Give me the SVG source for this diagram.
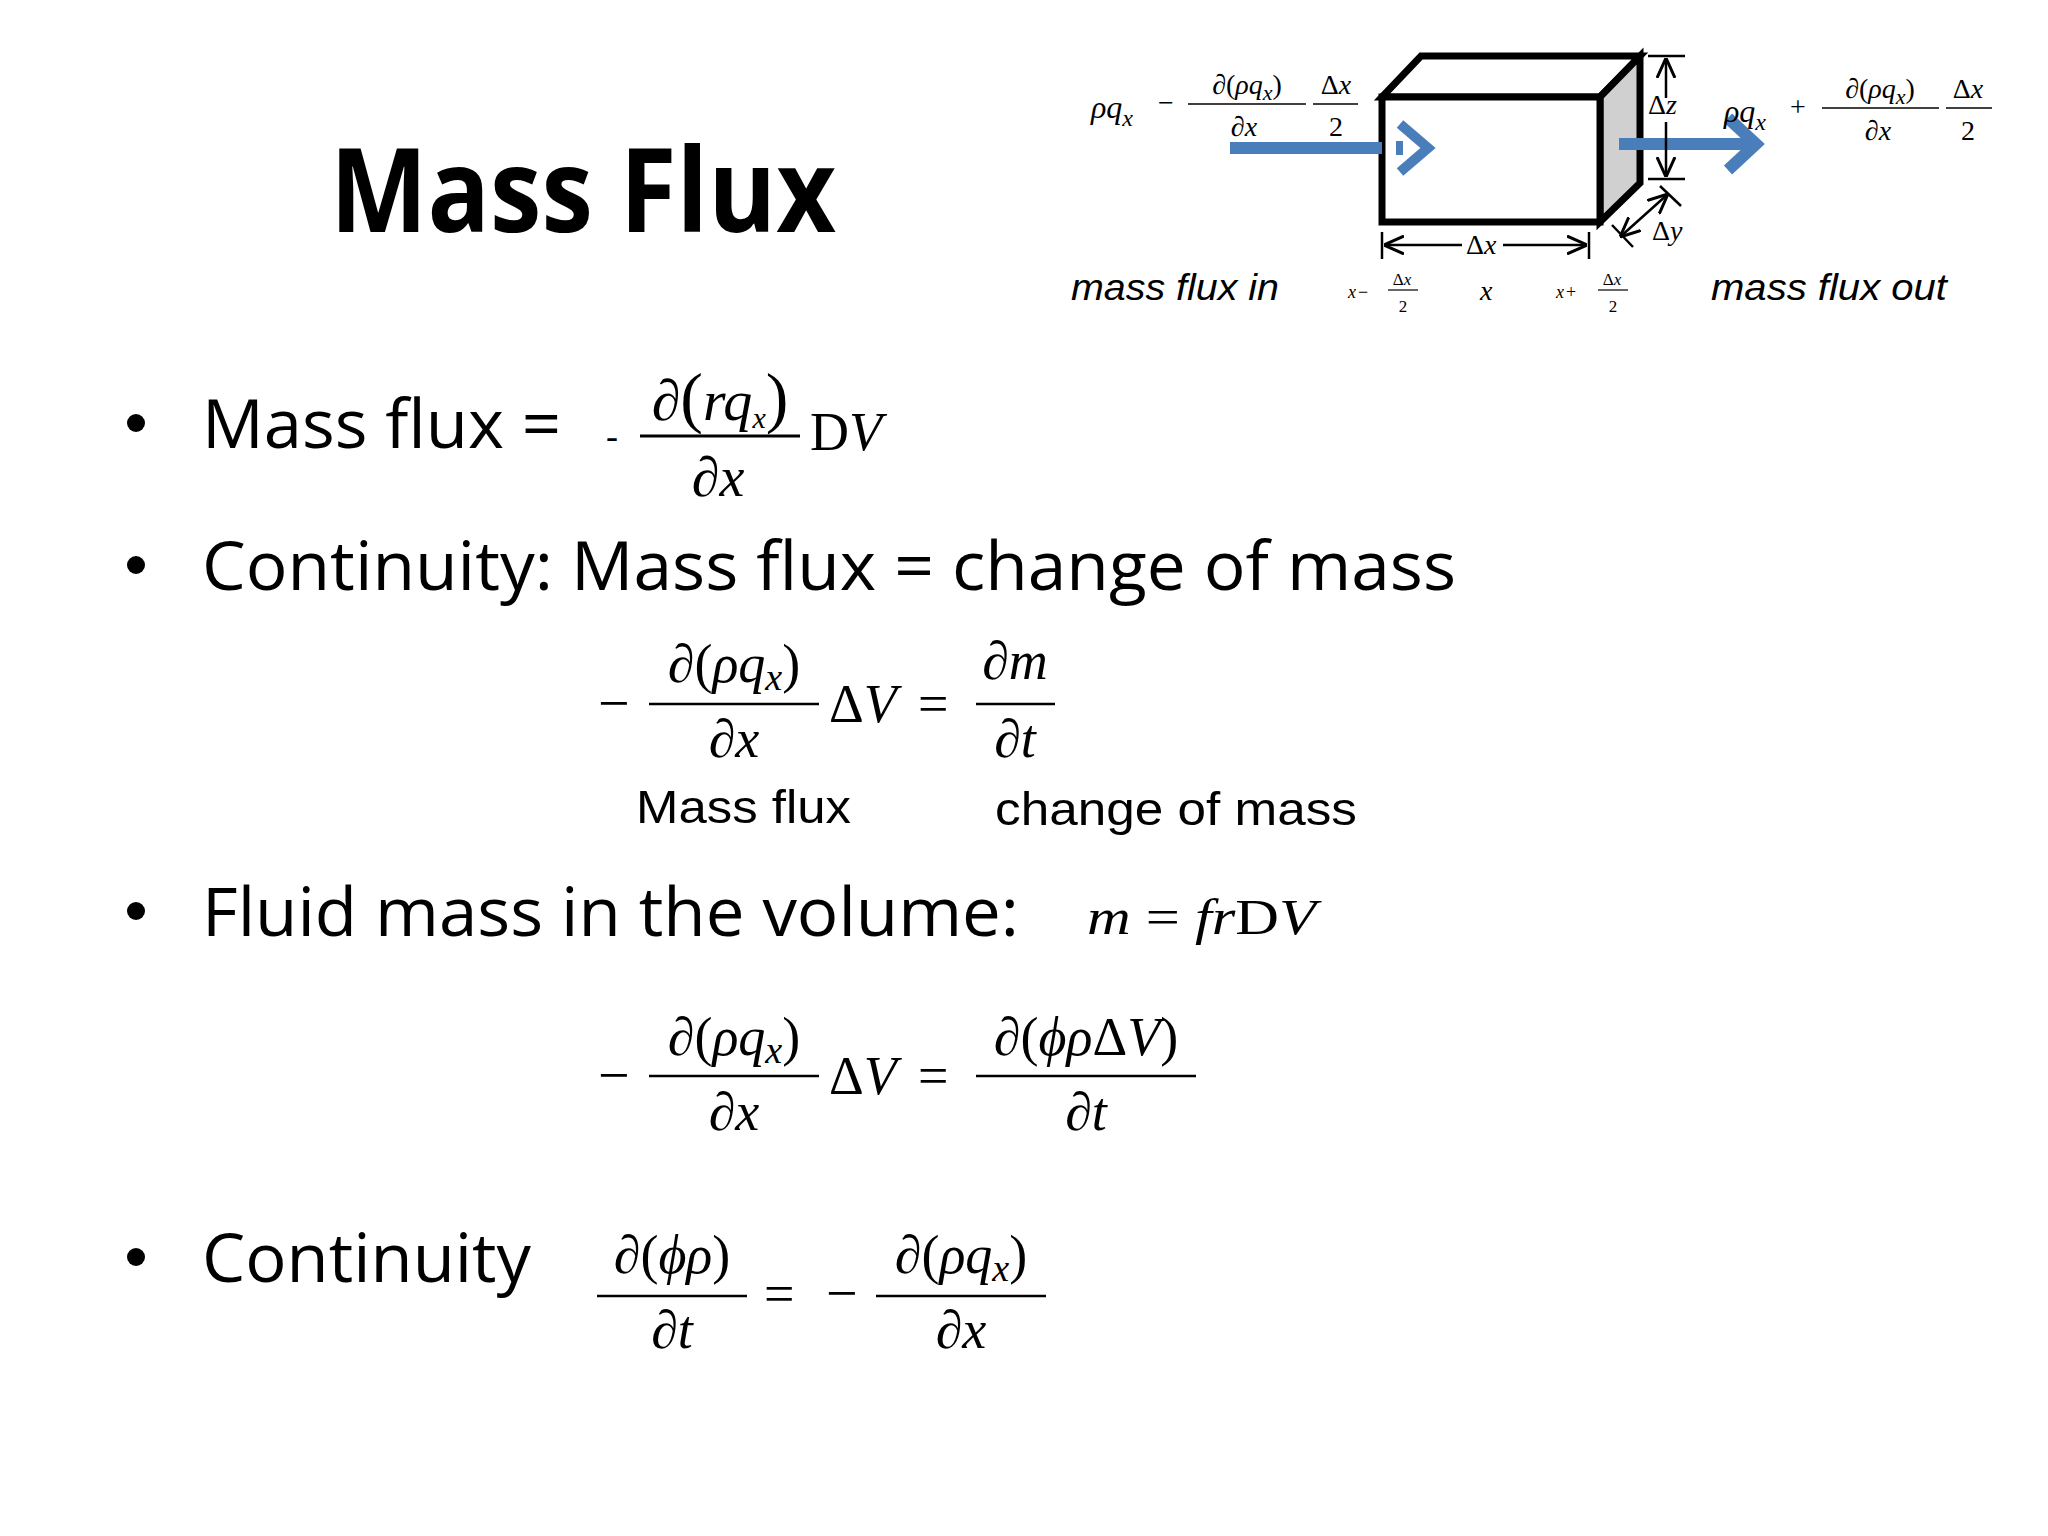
<svg xmlns="http://www.w3.org/2000/svg" width="2048" height="1536" viewBox="0 0 2048 1536">
<style>
.t{font-family:"Open Sans","Liberation Sans",sans-serif;fill:#000}
.m{font-family:"Liberation Serif",serif;font-style:italic;fill:#000}
.r{font-family:"Liberation Serif",serif;fill:#000}
.s{font-family:"Liberation Sans",sans-serif;fill:#000}
.fl{stroke:#000;stroke-width:2.5}
.k{stroke:#000;stroke-width:2.5;fill:none}
</style>
<defs>
<marker id="ab" viewBox="0 0 20 20" refX="20" refY="10" markerWidth="20" markerHeight="20" orient="auto-start-reverse" markerUnits="userSpaceOnUse"><path d="M0,1L20,10L0,19" fill="none" stroke="#000" stroke-width="3"/></marker>
</defs>
<rect width="2048" height="1536" fill="#fff"/>
<text class="t" x="330" y="232" font-size="116" font-weight="bold" textLength="506" lengthAdjust="spacingAndGlyphs">Mass Flux</text>

<g id="cube">
<polygon points="1382,97 1421,56 1640,56 1600,97" fill="#fff" stroke="#000" stroke-width="7"/>
<polygon points="1600,97 1640,56 1640,183 1600,222" fill="#d0d0d0" stroke="#000" stroke-width="7"/>
<rect x="1382" y="97" width="218" height="125" fill="#fff" stroke="#000" stroke-width="7"/>
</g>
<g id="connectors">
<line x1="1230" y1="148" x2="1382" y2="148" stroke="#4a7ebb" stroke-width="12"/>
<rect x="1396" y="141" width="7" height="14" fill="#4a7ebb"/>
<polyline points="1400,124 1428,148 1400,172" fill="none" stroke="#4a7ebb" stroke-width="10"/>
<line x1="1619" y1="144" x2="1752" y2="144" stroke="#4a7ebb" stroke-width="12"/>
<polyline points="1728,118 1756,144 1728,170" fill="none" stroke="#4a7ebb" stroke-width="12"/>
<line class="k" x1="1648" y1="56" x2="1685" y2="56"/>
<line class="k" x1="1648" y1="179" x2="1685" y2="179"/>
<line class="k" x1="1666" y1="58" x2="1666" y2="98" marker-start="url(#ab)"/>
<line class="k" x1="1666" y1="122" x2="1666" y2="177" marker-end="url(#ab)"/>
<line class="k" x1="1382" y1="232" x2="1382" y2="259"/>
<line class="k" x1="1589" y1="232" x2="1589" y2="259"/>
<line class="k" x1="1384" y1="245" x2="1462" y2="245" marker-start="url(#ab)"/>
<line class="k" x1="1503" y1="245" x2="1587" y2="245" marker-end="url(#ab)"/>
<line class="k" x1="1612" y1="225" x2="1633" y2="247"/>
<line class="k" x1="1660" y1="186" x2="1681" y2="206"/>
<line class="k" x1="1620" y1="237" x2="1668" y2="194" marker-start="url(#ab)" marker-end="url(#ab)"/>
</g>
<g id="labels-top">
<text class="r" x="1648" y="114" font-size="28">Δ<tspan font-style="italic">z</tspan></text>
<text class="r" x="1652" y="240" font-size="28">Δ<tspan font-style="italic">y</tspan></text>
<text class="r" x="1466" y="254" font-size="28">Δ<tspan font-style="italic">x</tspan></text>
<text class="s" x="1071" y="300" font-size="36" font-style="italic" textLength="208" lengthAdjust="spacingAndGlyphs">mass flux in</text>
<text class="s" x="1711" y="300" font-size="36" font-style="italic" textLength="236" lengthAdjust="spacingAndGlyphs">mass flux out</text>
<text class="m" x="1348" y="298" font-size="18">x</text><text class="r" x="1358" y="298" font-size="18">−</text>
<text class="r" x="1402" y="285" font-size="17" text-anchor="middle">Δ<tspan font-style="italic">x</tspan></text>
<line x1="1388" y1="290" x2="1418" y2="290" stroke="#000" stroke-width="1.2"/>
<text class="r" x="1403" y="312" font-size="17" text-anchor="middle">2</text>
<text class="m" x="1480" y="300" font-size="28">x</text>
<text class="m" x="1556" y="298" font-size="18">x</text><text class="r" x="1566" y="298" font-size="18">+</text>
<text class="r" x="1612" y="285" font-size="17" text-anchor="middle">Δ<tspan font-style="italic">x</tspan></text>
<line x1="1598" y1="290" x2="1628" y2="290" stroke="#000" stroke-width="1.2"/>
<text class="r" x="1613" y="312" font-size="17" text-anchor="middle">2</text>

<text class="m" x="1091" y="118" font-size="32">ρq<tspan font-size="24" dy="8">x</tspan></text>
<text class="r" x="1158" y="112" font-size="28">−</text>
<text class="r" x="1247" y="94" font-size="28" text-anchor="middle">∂(<tspan font-style="italic">ρq</tspan><tspan font-style="italic" font-size="22" dy="6">x</tspan><tspan dy="-6">)</tspan></text>
<line x1="1188" y1="104" x2="1306" y2="104" stroke="#000" stroke-width="1.5"/>
<text class="r" x="1244" y="136" font-size="28" text-anchor="middle">∂<tspan font-style="italic">x</tspan></text>
<text class="r" x="1336" y="94" font-size="28" text-anchor="middle">Δ<tspan font-style="italic">x</tspan></text>
<line x1="1313" y1="104" x2="1358" y2="104" stroke="#000" stroke-width="1.5"/>
<text class="r" x="1336" y="136" font-size="28" text-anchor="middle">2</text>

<text class="m" x="1724" y="122" font-size="32">ρq<tspan font-size="24" dy="8">x</tspan></text>
<text class="r" x="1790" y="116" font-size="28">+</text>
<text class="r" x="1880" y="98" font-size="28" text-anchor="middle">∂(<tspan font-style="italic">ρq</tspan><tspan font-style="italic" font-size="22" dy="6">x</tspan><tspan dy="-6">)</tspan></text>
<line x1="1822" y1="108" x2="1939" y2="108" stroke="#000" stroke-width="1.5"/>
<text class="r" x="1878" y="140" font-size="28" text-anchor="middle">∂<tspan font-style="italic">x</tspan></text>
<text class="r" x="1968" y="98" font-size="28" text-anchor="middle">Δ<tspan font-style="italic">x</tspan></text>
<line x1="1946" y1="108" x2="1992" y2="108" stroke="#000" stroke-width="1.5"/>
<text class="r" x="1968" y="140" font-size="28" text-anchor="middle">2</text>
</g>

<g id="bullets">
<circle cx="136" cy="423" r="9"/>
<text class="t" x="202" y="448" font-size="68" textLength="359" lengthAdjust="spacingAndGlyphs">Mass flux =</text>
<circle cx="136" cy="565" r="9"/>
<text class="t" x="202" y="590" font-size="68" textLength="1254" lengthAdjust="spacingAndGlyphs">Continuity: Mass flux = change of mass</text>
<circle cx="136" cy="911" r="9"/>
<text class="t" x="202" y="936" font-size="68" textLength="817" lengthAdjust="spacingAndGlyphs">Fluid mass in the volume:</text>
<circle cx="136" cy="1257" r="9"/>
<text class="t" x="202" y="1282" font-size="68" textLength="329" lengthAdjust="spacingAndGlyphs">Continuity</text>
</g>

<g id="eq1">
<text class="r" x="606" y="448" font-size="36">-</text>
<text class="r" x="720" y="420" font-size="58" text-anchor="middle">∂<tspan font-size="68">(</tspan><tspan font-style="italic">rq</tspan><tspan font-style="italic" font-size="30" dy="8">x</tspan><tspan font-size="68" dy="-8">)</tspan></text>
<line x1="640" y1="436" x2="800" y2="436" stroke="#000" stroke-width="3"/>
<text class="r" x="718" y="496" font-size="56" text-anchor="middle">∂<tspan font-style="italic">x</tspan></text>
<text class="r" x="810" y="450" font-size="54">D<tspan font-style="italic">V</tspan></text>
</g>

<g id="eq2">
<text class="r" x="598" y="722" font-size="56">−</text>
<text class="r" x="734" y="682" font-size="54" text-anchor="middle">∂(<tspan font-style="italic">ρq</tspan><tspan font-style="italic" font-size="38" dy="8">x</tspan><tspan dy="-8">)</tspan></text>
<line class="fl" x1="649" y1="704" x2="819" y2="704"/>
<text class="r" x="734" y="757" font-size="54" text-anchor="middle">∂<tspan font-style="italic">x</tspan></text>
<text class="r" x="829" y="722" font-size="54">Δ<tspan font-style="italic">V</tspan></text>
<text class="r" x="918" y="722" font-size="54">=</text>
<text class="r" x="1015" y="679" font-size="54" text-anchor="middle">∂<tspan font-style="italic">m</tspan></text>
<line class="fl" x1="976" y1="704" x2="1055" y2="704"/>
<text class="r" x="1015" y="757" font-size="54" text-anchor="middle">∂<tspan font-style="italic">t</tspan></text>
<text class="s" x="636" y="823" font-size="46" textLength="215" lengthAdjust="spacingAndGlyphs">Mass flux</text>
<text class="s" x="995" y="825" font-size="46" textLength="362" lengthAdjust="spacingAndGlyphs">change of mass</text>
</g>

<g id="eq-m">
<text class="m" x="1087" y="934" font-size="50" textLength="229" lengthAdjust="spacingAndGlyphs">m<tspan font-style="normal"> = </tspan>fr<tspan font-style="normal">D</tspan>V</text>
</g>

<g id="eq3">
<text class="r" x="598" y="1094" font-size="56">−</text>
<text class="r" x="734" y="1055" font-size="54" text-anchor="middle">∂(<tspan font-style="italic">ρq</tspan><tspan font-style="italic" font-size="38" dy="8">x</tspan><tspan dy="-8">)</tspan></text>
<line class="fl" x1="649" y1="1076" x2="819" y2="1076"/>
<text class="r" x="734" y="1130" font-size="54" text-anchor="middle">∂<tspan font-style="italic">x</tspan></text>
<text class="r" x="829" y="1094" font-size="54">Δ<tspan font-style="italic">V</tspan></text>
<text class="r" x="918" y="1094" font-size="54">=</text>
<text class="r" x="1086" y="1055" font-size="54" text-anchor="middle">∂(<tspan font-style="italic">ϕρ</tspan>Δ<tspan font-style="italic">V</tspan>)</text>
<line class="fl" x1="976" y1="1076" x2="1196" y2="1076"/>
<text class="r" x="1086" y="1130" font-size="54" text-anchor="middle">∂<tspan font-style="italic">t</tspan></text>
</g>

<g id="eq4">
<text class="r" x="672" y="1273" font-size="54" text-anchor="middle">∂(<tspan font-style="italic">ϕρ</tspan>)</text>
<line class="fl" x1="597" y1="1296" x2="747" y2="1296"/>
<text class="r" x="672" y="1348" font-size="54" text-anchor="middle">∂<tspan font-style="italic">t</tspan></text>
<text class="r" x="764" y="1312" font-size="54">=</text>
<text class="r" x="826" y="1312" font-size="56">−</text>
<text class="r" x="961" y="1273" font-size="54" text-anchor="middle">∂(<tspan font-style="italic">ρq</tspan><tspan font-style="italic" font-size="38" dy="8">x</tspan><tspan dy="-8">)</tspan></text>
<line class="fl" x1="876" y1="1296" x2="1046" y2="1296"/>
<text class="r" x="961" y="1348" font-size="54" text-anchor="middle">∂<tspan font-style="italic">x</tspan></text>
</g>
</svg>
